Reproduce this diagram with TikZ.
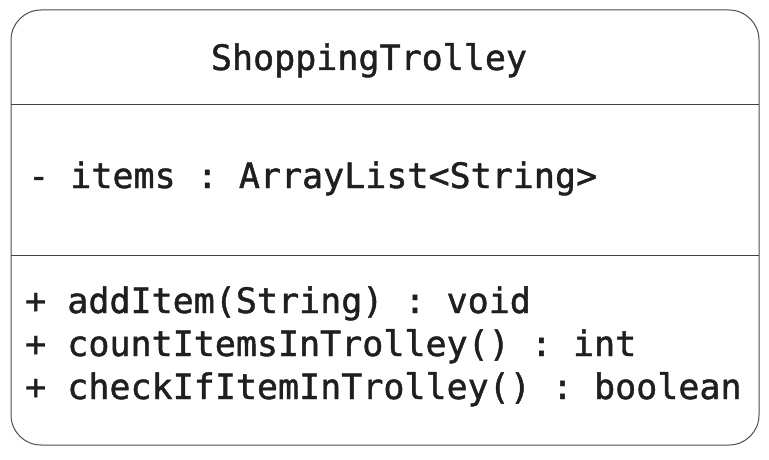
\documentclass[tikz,border=0pt]{standalone}
\usepackage{fontspec}
\setmonofont[FakeBold=1.3]{DejaVu Sans Mono}
\usetikzlibrary{positioning}

\tikzset{
  member/.style={anchor=base west, inner sep=0pt, font=\ttfamily\fontsize{35}{42}\selectfont, text=black!88},
}

\begin{document}
\begin{tikzpicture}[x=1pt, y=-1pt]
  \useasboundingbox (0,0) rectangle (769,460);

  % Class box
  \draw[black!70, line width=1pt, rounded corners=30pt] (11,10) rectangle (759,445);

  % Compartment lines
  \coordinate (L1) at (11,104);
  \coordinate (R1) at (759,104);
  \coordinate (L2) at (11,255);
  \coordinate (R2) at (759,255);
  \draw[black!75, line width=0.9pt] (L1) -- (R1);
  \draw[black!75, line width=0.9pt] (L2) -- (R2);

  % Class name
  \node[member, anchor=base] (name) at (369,70) {ShoppingTrolley};

  % Attributes
  \node[member] (items) at (28,188) {- items : ArrayList<String>};

  % Operations
  \node[member] (add)   at (25,313) {+ addItem(String) : void};
  \node[member] (count) at (25,356) {+ countItemsInTrolley() : int};
  \node[member] (check) at (25,399) {+ checkIfItemInTrolley() : boolean};
\end{tikzpicture}
\end{document}
